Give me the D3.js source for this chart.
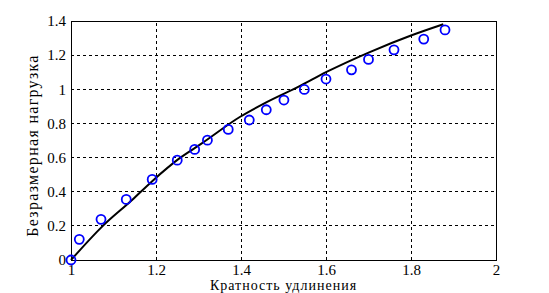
<!DOCTYPE html>
<html><head><meta charset="utf-8">
<script src="https://cdn.jsdelivr.net/npm/d3@7"></script>
<style>body{margin:0;background:#fff}svg{display:block}</style>
</head><body>
<script>
const xTicks = [1, 1.2, 1.4, 1.6, 1.8, 2];
const yTicks = [0, 0.2, 0.4, 0.6, 0.8, 1, 1.2, 1.4];
const pointX = [1.0, 1.0195, 1.0706, 1.130, 1.191, 1.250, 1.291, 1.321, 1.370, 1.4195, 1.4595, 1.501, 1.549, 1.600, 1.660, 1.700, 1.760, 1.830, 1.880];
const pointY = [0, 0.121, 0.238, 0.355, 0.472, 0.585, 0.648, 0.702, 0.765, 0.820, 0.880, 0.937, 0.999, 1.060, 1.114, 1.175, 1.231, 1.294, 1.348];
const lineX = [1.0, 1.075, 1.143, 1.191, 1.2565, 1.306, 1.398, 1.4605, 1.539, 1.6, 1.703, 1.8, 1.876];
const lineY = [0, 0.200, 0.350, 0.462, 0.598, 0.680, 0.839, 0.925, 1.020, 1.100, 1.218, 1.315, 1.381];
const xLabel = "Кратность удлинения";
const yLabel = "Безразмерная нагрузка";

const W = 549, H = 293;
const m = {left: 71, right: 53, top: 21, bottom: 33};
const svg = d3.select("body").append("svg").attr("width", W).attr("height", H);
const x = d3.scaleLinear().domain([1, 2]).range([m.left, W - m.right]);
const y = d3.scaleLinear().domain([0, 1.4]).range([H - m.bottom, m.top]);
const font = "'Liberation Serif', 'Times New Roman', serif";

// grid
svg.append("g").selectAll("line").data(xTicks.slice(1, -1)).join("line")
  .attr("x1", d => x(d)).attr("x2", d => x(d)).attr("y1", y(0)).attr("y2", y(1.4))
  .attr("stroke", "#000").attr("stroke-width", 1).attr("stroke-dasharray", "3,3")
  .attr("shape-rendering", "crispEdges");
svg.append("g").selectAll("line").data(yTicks.slice(1, -1)).join("line")
  .attr("y1", d => y(d)).attr("y2", d => y(d)).attr("x1", x(1)).attr("x2", x(2))
  .attr("stroke", "#000").attr("stroke-width", 1).attr("stroke-dasharray", "3,3")
  .attr("shape-rendering", "crispEdges");

// box
svg.append("rect").attr("x", x(1)).attr("y", y(1.4)).attr("width", x(2) - x(1)).attr("height", y(0) - y(1.4))
  .attr("fill", "none").attr("stroke", "#000").attr("stroke-width", 1).attr("shape-rendering", "crispEdges");

// axes (labels only)
const xAxis = d3.axisBottom(x).tickValues(xTicks).tickFormat(d3.format("")).tickSize(0).tickPadding(4);
const yAxis = d3.axisLeft(y).tickValues(yTicks).tickFormat(d3.format("")).tickSize(0).tickPadding(5);
const gx = svg.append("g").attr("transform", `translate(0,${y(0)})`).call(xAxis);
const gy = svg.append("g").attr("transform", `translate(${x(1)},0)`).call(yAxis);
[gx, gy].forEach(g => {
  g.select(".domain").remove();
  g.selectAll("text").attr("font-family", font).attr("font-size", 15).attr("fill", "#000");
});

// line
const lineData = lineX.map((d, i) => [d, lineY[i]]);
svg.append("path").datum(lineData)
  .attr("d", d3.line().x(d => x(d[0])).y(d => y(d[1])).curve(d3.curveMonotoneX))
  .attr("fill", "none").attr("stroke", "#000").attr("stroke-width", 2);

// points
svg.append("g").selectAll("circle").data(pointX.map((d, i) => [d, pointY[i]])).join("circle")
  .attr("cx", d => x(d[0])).attr("cy", d => y(d[1])).attr("r", 4.5)
  .attr("fill", "none").attr("stroke", "#0000ff").attr("stroke-width", 1.8);

// axis titles
svg.append("text").attr("x", (x(1) + x(2)) / 2).attr("y", 290).attr("text-anchor", "middle")
  .attr("font-family", font).attr("font-size", 14).attr("letter-spacing", 1).text(xLabel);
svg.append("text").attr("transform", `translate(38,${(y(0) + y(1.4)) / 2 + 5}) rotate(-90)`)
  .attr("text-anchor", "middle").attr("font-family", font).attr("font-size", 16)
  .attr("letter-spacing", 1.3).text(yLabel);
</script>
</body></html>
